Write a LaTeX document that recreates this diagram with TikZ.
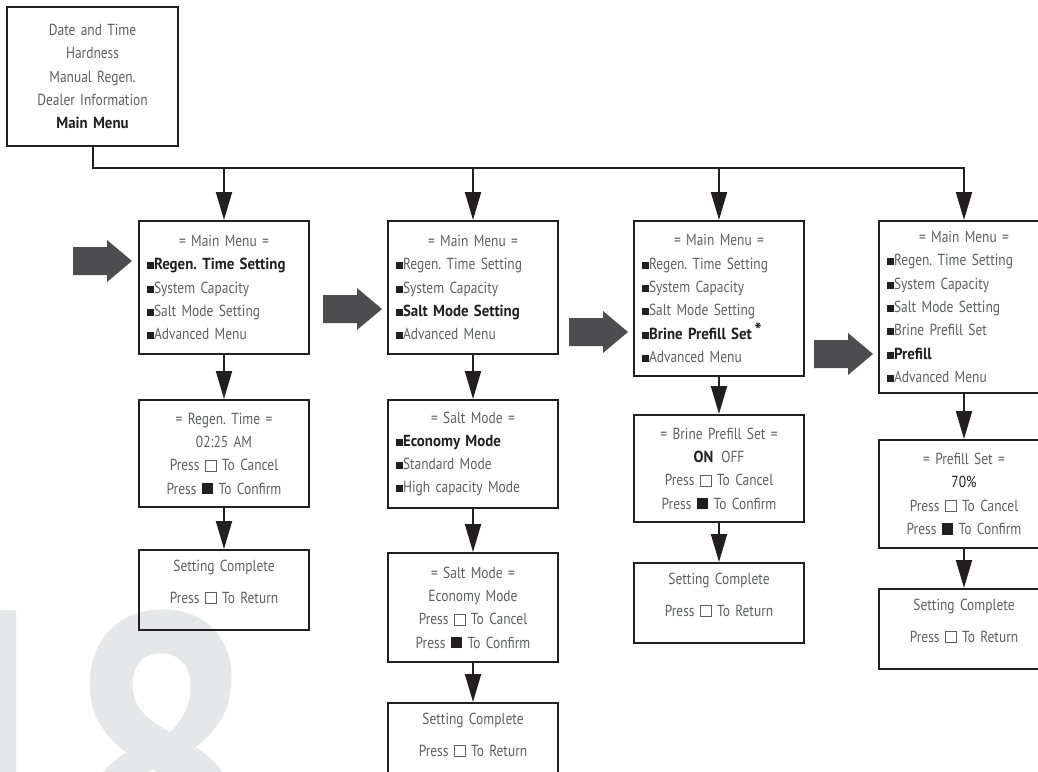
\documentclass[tikz,border=0pt]{standalone}
\usepackage{fontspec}
\setmainfont{PT Sans}[FakeStretch=0.84, WordSpace=0.8, BoldFeatures={FakeStretch=0.93}]
\newfontfamily\numfont{PT Sans}[FakeStretch=0.86, BoldFeatures={FakeStretch=0.86}]
\usepackage{tikz}
\usetikzlibrary{positioning, arrows.meta}
\frenchspacing

\definecolor{ink}{HTML}{231F20}
\definecolor{txt}{HTML}{5E5F62}
\definecolor{pointerc}{HTML}{4D4D4F}
\definecolor{pagenum}{HTML}{E6E7E8}

\newcommand{\bullt}{{\color{ink}\rule[0.5pt]{7pt}{7pt}}}
\newcommand{\mitem}[1]{\makebox[\hsize][l]{\bullt#1}}
\newcommand{\sel}[1]{{\bfseries\color{ink}#1}}
\newcommand{\openkey}{{\setlength{\fboxsep}{0pt}\setlength{\fboxrule}{0.9pt}\fbox{\rule{0pt}{10pt}\rule{10pt}{0pt}}}}
\newcommand{\fillkey}{{\color{ink}\rule{11.5pt}{11.5pt}}}

\begin{document}
\begin{tikzpicture}[
        x=1pt, y=-1pt,
        node distance=44pt,
        screen/.style={
          rectangle,
          draw=ink,
          line width=2pt,
          text=txt,
          text width=154pt,
          inner xsep=8pt,
          inner ysep=0pt,
          align=center,
          font=\fontsize{16}{23.3}\selectfont
        },
        donebox/.style={
          screen,
          minimum height=80pt,
          text depth=48pt
        },
        arrow/.style={
          -{Triangle[length=28pt, width=16pt]},
          draw=ink,
          line width=2pt
        },
        pointer/.style={fill=pointerc}
      ]
      \useasboundingbox (0,0) rectangle (1038,771);
      \clip (0,0) rectangle (1038,771);

      % Page number
      \node [font=\numfont\bfseries\fontsize{400}{400}\selectfont, text=pagenum, anchor=base west, inner sep=0pt] (pgnum) at (-109,895) {1\kern-23pt 8};

      % Nodes
      \node [screen, text width=155pt, minimum height=139pt, anchor=north west] (menu) at (6,6)
        {Date and Time \\ Hardness \\ Manual Regen. \\ Dealer Information \\ \sel{Main Menu}};

      \node [screen, minimum height=133pt, anchor=north west] (m1) at (138,220)
        {= Main Menu = \\ \mitem{\sel{Regen. Time Setting}} \\ \mitem{System Capacity} \\ \mitem{Salt Mode Setting} \\ \mitem{Advanced Menu}};
      \node [screen, minimum height=107pt, below=of m1] (r1)
        {= Regen. Time = \\ 02:25 AM \\ Press \openkey{} To Cancel \\ Press \fillkey{} To Confirm};
      \node [donebox, below=41pt of r1] (c1) {Setting Complete \\[8pt] Press \openkey{} To Return};

      \node [screen, minimum height=133pt, anchor=north west] (m2) at (387,220)
        {= Main Menu = \\ \mitem{Regen. Time Setting} \\ \mitem{System Capacity} \\ \mitem{\sel{Salt Mode Setting}} \\ \mitem{Advanced Menu}};
      \node [screen, minimum height=108pt, below=of m2] (s2)
        {= Salt Mode = \\ \mitem{\sel{Economy Mode}} \\ \mitem{Standard Mode} \\ \mitem{High capacity Mode}};
      \node [screen, minimum height=109pt, below=43pt of s2] (k2)
        {= Salt Mode = \\ Economy Mode \\ Press \openkey{} To Cancel \\ Press \fillkey{} To Confirm};
      \node [donebox, below=39pt of k2] (c2) {Setting Complete \\[8pt] Press \openkey{} To Return};

      \node [screen, minimum height=155pt, anchor=north west] (m3) at (633,220)
        {= Main Menu = \\ \mitem{Regen. Time Setting} \\ \mitem{System Capacity} \\ \mitem{Salt Mode Setting} \\ \mitem{\sel{Brine Prefill Set}\,\raisebox{2pt}{\sel{\fontsize{20}{20}\selectfont *}}} \\ \mitem{Advanced Menu}};
      \node [screen, minimum height=107pt, below=37pt of m3] (b3)
        {= Brine Prefill Set = \\ \sel{ON}\enspace OFF \\ Press \openkey{} To Cancel \\ Press \fillkey{} To Confirm};
      \node [donebox, below=39pt of b3] (c3) {Setting Complete \\[8pt] Press \openkey{} To Return};

      \node [screen, minimum height=172pt, anchor=north west] (m4) at (878,220)
        {= Main Menu = \\ \mitem{Regen. Time Setting} \\ \mitem{System Capacity} \\ \mitem{Salt Mode Setting} \\ \mitem{Brine Prefill Set} \\ \mitem{\sel{Prefill}} \\ \mitem{Advanced Menu}};
      \node [screen, minimum height=108pt, below=45pt of m4] (p4)
        {= Prefill Set = \\ {\color{ink}70\%} \\ Press \openkey{} To Cancel \\ Press \fillkey{} To Confirm};
      \node [donebox, below=39pt of p4] (c4) {Setting Complete \\[8pt] Press \openkey{} To Return};

      % Branch arrows
      \coordinate (bus) at (0,168);
      \draw [arrow] (menu.south) |- (bus -| m4.north) -- (m4.north);
      \foreach \m in {m1,m2,m3}
        \draw [arrow] (bus -| \m.north) -- (\m.north);

      % Sequential Arrows
      \draw [arrow] (m1) -- (r1);
      \draw [arrow] (r1) -- (c1);
      \draw [arrow] (m2) -- (s2);
      \draw [arrow] (s2) -- (k2);
      \draw [arrow] (k2) -- (c2);
      \draw [arrow] (m3) -- (b3);
      \draw [arrow] (b3) -- (c3);
      \draw [arrow] (m4) -- (p4);
      \draw [arrow] (p4) -- (c4);

      % Selection pointers
      \foreach \tx/\ty in {132/261, 382/309, 628/332, 873/354}
        \fill [pointer] (\tx,\ty) -- ++(-25,-21) -- ++(0,7) -- ++(-34,0) -- ++(0,28) -- ++(34,0) -- ++(0,7) -- cycle;

    \end{tikzpicture}
\end{document}
